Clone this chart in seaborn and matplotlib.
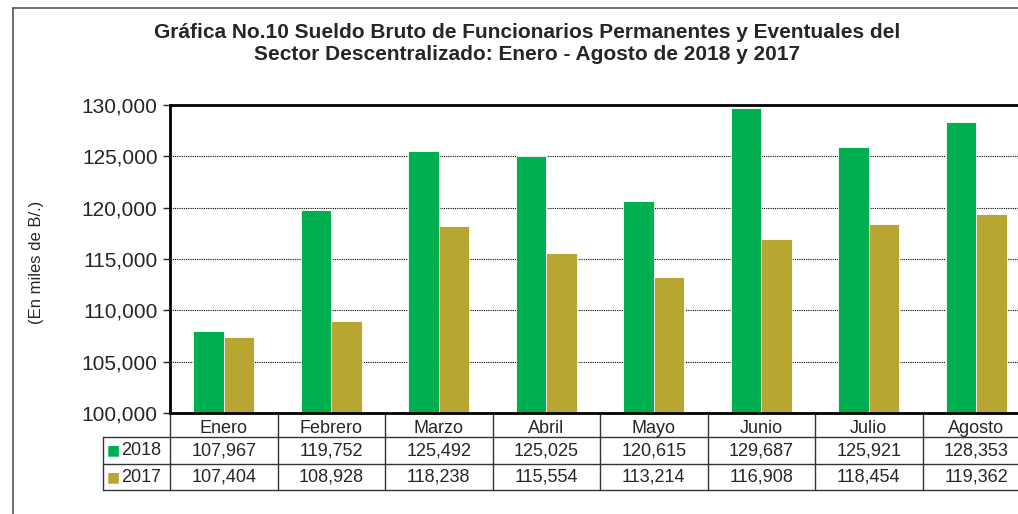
import pandas as pd
import matplotlib.pyplot as plt
import matplotlib.ticker as mticker
import seaborn as sns

meses = ["Enero", "Febrero", "Marzo", "Abril", "Mayo", "Junio", "Julio", "Agosto"]
anios = ["2018", "2017"]
sueldo_2018 = [107967, 119752, 125492, 125025, 120615, 129687, 125921, 128353]
sueldo_2017 = [107404, 108928, 118238, 115554, 113214, 116908, 118454, 119362]
colores = ["#00B050", "#B9A532"]

df = pd.DataFrame({
    "mes": meses * 2,
    "anio": [anios[0]] * len(meses) + [anios[1]] * len(meses),
    "valor": sueldo_2018 + sueldo_2017,
})

sns.set_style("white")
plt.rcParams["font.family"] = ["Liberation Sans", "DejaVu Sans"]

fig = plt.figure(figsize=(10.18, 5.14), dpi=100)
W, H = 1018, 514
# plot area runs past the right edge, as in the cropped reference
ax = fig.add_axes([170 / W, (H - 413) / H, 860 / W, 308 / H])

sns.barplot(data=df, x="mes", y="valor", hue="anio", hue_order=anios,
            palette=colores, width=0.57, gap=0, ax=ax, legend=False,
            linewidth=0.6, edgecolor="white", saturation=1)

ax.set_ylim(100000, 130000)
ax.set_xlim(-0.5, 7.5)
ax.yaxis.set_major_locator(mticker.MultipleLocator(5000))
ax.yaxis.set_major_formatter(mticker.FuncFormatter(lambda v, p: f"{v:,.0f}"))
ax.tick_params(axis="y", labelsize=15, length=5, width=1, direction="out", left=True, pad=4)
ax.tick_params(axis="x", labelsize=13, length=0, pad=5)
ax.set_xlabel("")
ax.set_ylabel("")
ax.grid(axis="y", color="black", linestyle=(0, (1, 1)), linewidth=0.8)
ax.set_axisbelow(True)
for side in ["left", "top", "bottom"]:
    ax.spines[side].set_linewidth(2)
    ax.spines[side].set_color("black")
ax.spines["right"].set_visible(False)

# data table below the axis
trans = ax.get_xaxis_transform()
px = 1 / 107.5  # one pixel in category units
row_y = [-24 / 308, -51 / 308, -77 / 308]
x_lab = -0.5 - 67 * px
line_kw = dict(color="#333333", linewidth=1, transform=trans, clip_on=False)
for i in range(len(meses) + 1):
    ax.plot([i - 0.5, i - 0.5], [0, row_y[2]], **line_kw)
ax.plot([x_lab, x_lab], [row_y[0], row_y[2]], **line_kw)
for yy in row_y:
    ax.plot([x_lab, 7.5], [yy, yy], **line_kw)

valores = [sueldo_2018, sueldo_2017]
for r, (anio, serie, col) in enumerate(zip(anios, valores, colores)):
    yc = (row_y[r] + row_y[r + 1]) / 2
    for i, v in enumerate(serie):
        ax.text(i, yc, f"{v:,}", transform=trans, ha="center", va="center", fontsize=13)
    ax.text(x_lab + 4 * px, yc, "\u25A0", transform=trans, ha="left", va="center",
            fontsize=10, color=col, family="DejaVu Sans")
    ax.text(x_lab + 18 * px, yc, anio, transform=trans, ha="left", va="center", fontsize=13)

fig.text(527 / W, 1 - 33 / H,
         "Gráfica No.10 Sueldo Bruto de Funcionarios Permanentes y Eventuales del",
         ha="center", va="center", fontsize=15, fontweight="bold")
fig.text(527 / W, 1 - 55 / H,
         "Sector Descentralizado: Enero - Agosto de 2018 y 2017",
         ha="center", va="center", fontsize=15, fontweight="bold")
fig.text(37 / W, 1 - 262 / H, "(En miles de B/.)", rotation=90,
         ha="center", va="center", fontsize=12)

# outer chart border (cropped on right and bottom)
fig.add_artist(plt.Line2D([13 / W, 13 / W], [0, 1 - 8 / H], color="#555555", linewidth=1.2))
fig.add_artist(plt.Line2D([13 / W, 1], [1 - 8 / H, 1 - 8 / H], color="#555555", linewidth=1.2))

fig.savefig("out.png", dpi=100)
